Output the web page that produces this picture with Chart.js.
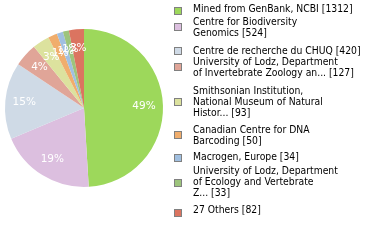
<!DOCTYPE html>
<html>
<head>
<meta charset="utf-8">
<script src="https://cdn.jsdelivr.net/npm/chart.js@4/dist/chart.umd.min.js"></script>
<style>
  html, body { margin: 0; padding: 0; background: #ffffff; }
  #wrap { position: relative; width: 380px; height: 240px; }
</style>
</head>
<body>
<div id="wrap"><canvas id="c" width="380" height="240"></canvas></div>
<script>
// ---- data ----
const CATEGORY_LINES = [
  ["Mined from GenBank, NCBI"],
  ["Centre for Biodiversity", "Genomics"],
  ["Centre de recherche du CHUQ"],
  ["University of Lodz, Department", "of Invertebrate Zoology an..."],
  ["Smithsonian Institution,", "National Museum of Natural", "Histor..."],
  ["Canadian Centre for DNA", "Barcoding"],
  ["Macrogen, Europe"],
  ["University of Lodz, Department", "of Ecology and Vertebrate", "Z..."],
  ["27 Others"]
];
const VALUES = [1312, 524, 420, 127, 93, 50, 34, 33, 82];
const COLORS = ["#9dd85b", "#dcbfdf", "#cfdae6", "#e0a598", "#dce29e", "#f0ad6c", "#a0bfe0", "#9dc47c", "#db7460"];

// legend layout (pixel tops of swatch and first text line)
const LEGEND_SWATCH_TOP = [7, 23, 47, 63, 98, 131, 154, 179, 209];
const LEGEND_TEXT_TOP   = [6, 19, 48, 59, 88, 127, 154, 168, 207];

const labels = CATEGORY_LINES.map((lines, i) => {
  const l = lines.slice();
  l[l.length - 1] = l[l.length - 1] + " [" + VALUES[i] + "]";
  return l;
});

const LEGEND_FONT = "10.3px 'DejaVu Sans Condensed', 'DejaVu Sans', sans-serif";
const PCT_FONT = "10.5px 'DejaVu Sans', sans-serif";

const pctLabels = {
  id: 'pctLabels',
  afterDatasetsDraw(chart) {
    const ctx = chart.ctx;
    const meta = chart.getDatasetMeta(0);
    const total = VALUES.reduce((a, b) => a + b, 0);
    ctx.save();
    ctx.font = PCT_FONT;
    ctx.fillStyle = "#ffffff";
    ctx.textAlign = "center";
    ctx.textBaseline = "middle";
    meta.data.forEach((arc, i) => {
      const p = arc.getProps(['startAngle', 'endAngle', 'outerRadius', 'x', 'y'], true);
      const mid = (p.startAngle + p.endAngle) / 2;
      const r = p.outerRadius * 0.76;
      const pct = Math.floor(VALUES[i] / total * 100) + "%";
      ctx.fillText(pct, p.x + Math.cos(mid) * r, p.y + Math.sin(mid) * r);
    });
    ctx.restore();
  }
};

const customLegend = {
  id: 'customLegend',
  afterDraw(chart) {
    const ctx = chart.ctx;
    ctx.save();
    ctx.font = LEGEND_FONT;
    ctx.textAlign = "left";
    ctx.textBaseline = "top";
    labels.forEach((lines, i) => {
      ctx.fillStyle = "#808080";
      ctx.fillRect(174, LEGEND_SWATCH_TOP[i], 8, 8);
      ctx.fillStyle = COLORS[i];
      ctx.fillRect(175, LEGEND_SWATCH_TOP[i] + 1, 6, 6);
      ctx.fillStyle = "#000000";
      lines.forEach((t, k) => {
        ctx.fillText(t, 193, LEGEND_TEXT_TOP[i] - 2 + k * 11);
      });
    });
    ctx.restore();
  }
};

new Chart(document.getElementById('c'), {
  type: 'pie',
  data: {
    labels: labels.map(l => l.join(' ')),
    datasets: [{
      data: VALUES,
      backgroundColor: COLORS,
      borderWidth: 0
    }]
  },
  options: {
    responsive: false,
    animation: false,
    layout: { padding: { left: 5, top: 29, right: 217, bottom: 53 } },
    plugins: {
      legend: { display: false },
      tooltip: { enabled: false }
    }
  },
  plugins: [pctLabels, customLegend]
});
</script>
</body>
</html>
